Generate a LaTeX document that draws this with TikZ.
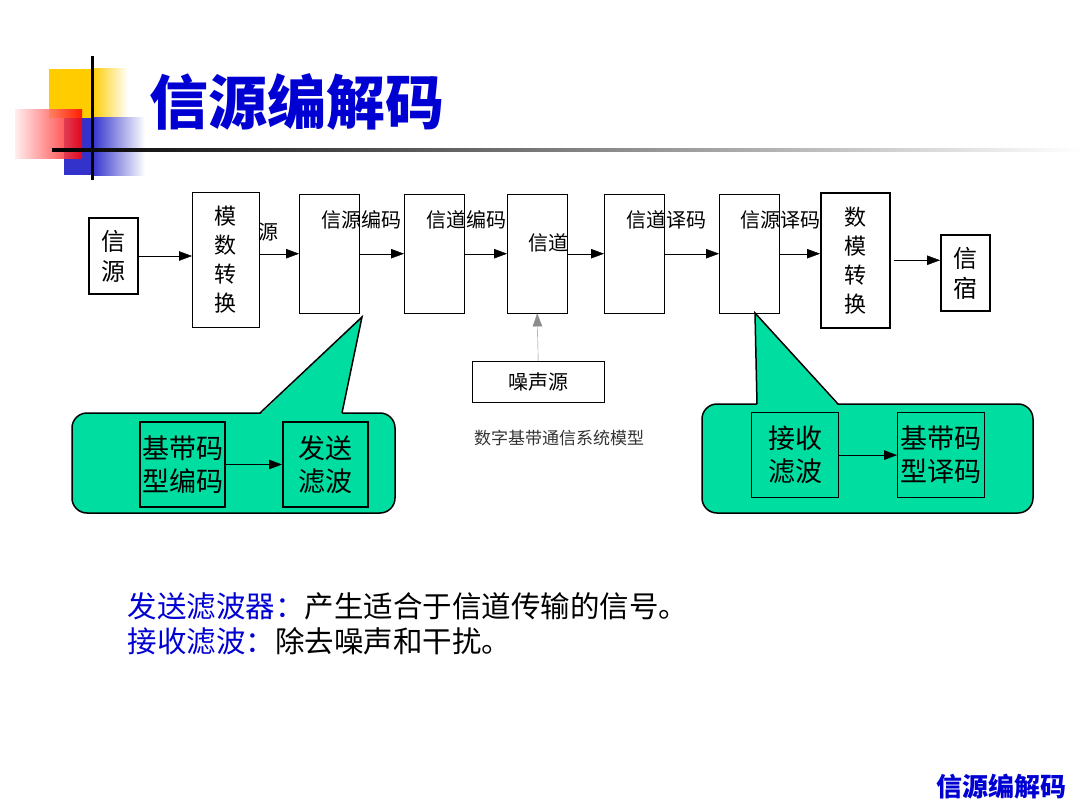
\documentclass[tikz,border=0pt]{standalone}
\usepackage{fontspec}
\setmainfont{Noto Sans CJK SC}
\usepackage{tkz-euclide}
\usetikzlibrary{arrows.meta}
\definecolor{bleutitre}{RGB}{0,0,210}
\definecolor{vertbulle}{RGB}{0,221,160}
\definecolor{jaunedeco}{RGB}{255,204,0}
\definecolor{bleudeco}{RGB}{51,51,204}
\newcommand\taille[2]{\fontsize{#1}{#2}\selectfont}

\begin{document}
\begin{tikzpicture}[x=1pt,y=-1pt,
    bloc/.style={draw,fill=white,inner sep=0pt,anchor=north west,align=center},
    fleche/.style={-{Triangle[length=13pt,width=9.5pt]}},
    etiq/.style={font=\taille{20}{24}}]
    \useasboundingbox (0,0) rectangle (1080,808);
    % décor du titre
    \fill[jaunedeco] (49,69) rectangle (92,118);
    \shade[left color=jaunedeco,right color=white] (92,69) rectangle (128,118);
    \fill[bleudeco] (64,118) rectangle (92,175);
    \shade[left color=bleudeco,right color=white] (92,118) rectangle (145,175);
    \shade[left color=red!8,right color=red,opacity=0.85] (15,110) rectangle (82,158);
    \fill[black] (90.5,56) rectangle (93.5,180);
    \shade[left color=black,middle color=gray!70,right color=white] (52,148.5) rectangle (1080,151.5);
    \node[font=\taille{59}{61}\bfseries,text=bleutitre,anchor=west] (titre) at (146,102) {信源编解码};
    % définition des points
    \tkzDefPoints{260/413/P1, 362/317/P2, 342/413/P3, 757/404/Q1, 755/313/Q2, 838/404/Q3}
    % chaîne de transmission
    \node[bloc,line width=2pt,minimum width=49pt,minimum height=76pt,font=\taille{24}{30}] (src) at (88,217) {信\\源};
    \node[bloc,minimum width=67pt,minimum height=135pt,font=\taille{22}{29}] (ad) at (192,192) {模\\数\\转\\换};
    \node[bloc,minimum width=60pt,minimum height=119pt] (ecs) at (299,194) {};
    \node[bloc,minimum width=60pt,minimum height=119pt] (ecc) at (404,194) {};
    \node[bloc,minimum width=60pt,minimum height=119pt] (canal) at (507,194) {};
    \node[bloc,minimum width=60pt,minimum height=119pt] (dcc) at (604,194) {};
    \node[bloc,minimum width=60pt,minimum height=119pt] (dcs) at (719,194) {};
    \node[bloc,line width=1.5pt,minimum width=69pt,minimum height=135pt,font=\taille{22}{29}] (da) at (820,192) {数\\模\\转\\换};
    \node[bloc,line width=2pt,minimum width=49pt,minimum height=76pt,font=\taille{24}{30}] (dest) at (940,234) {信\\宿};
    \node[bloc,minimum width=132pt,minimum height=41pt,font=\taille{20}{24}] (bruit) at (472,361) {噪声源};
    % étiquettes
    \node[etiq] (l-src) at (268,232) {源};
    \node[etiq] (l-ecs) at (361,220) {信源编码};
    \node[etiq] (l-ecc) at (466,220) {信道编码};
    \node[etiq] (l-canal) at (548,243) {信道};
    \node[etiq] (l-dcc) at (666,220) {信道译码};
    \node[etiq] (l-dcs) at (780,220) {信源译码};
    \node[font=\taille{17}{20},text=black!80] (legende) at (559,438) {数字基带通信系统模型};
    % flèches
    \draw[fleche] (src.east) -- (ad.west |- src.east);
    \draw[fleche] (ad.east |- ecs.west) -- (ecs.west);
    \draw[fleche] (ecs.east) -- (ecc.west);
    \draw[fleche] (ecc.east) -- (canal.west);
    \draw[fleche] (canal.east) -- (dcc.west);
    \draw[fleche] (dcc.east) -- (dcs.west);
    \draw[fleche] (dcs.east) -- (da.west |- dcs.east);
    \draw[fleche] ([xshift=3pt]da.east) -- (dest.west |- da.east);
    \draw[fleche,draw=black!45] (bruit.north) -- (canal.south);
    % bulle d'émission
    \draw[fill=vertbulle,line width=1.5pt,rounded corners=15pt] (72,413) rectangle (395,513);
    \fill[vertbulle] ([yshift=-1.5pt]P1) -- (P2) -- ([yshift=-1.5pt]P3) -- cycle;
    \draw[line width=1.5pt] (P1) -- (P2) -- (P3);
    \node[bloc,fill=vertbulle,line width=2pt,minimum width=85pt,minimum height=85pt,font=\taille{27}{33}] (bcode) at (139,421) {基带码\\型编码};
    \node[bloc,fill=vertbulle,line width=2pt,minimum width=85pt,minimum height=85pt,font=\taille{27}{33}] (filtre-e) at (282,421) {发送\\滤波};
    \draw[fleche,line width=1pt] (bcode.east) -- (filtre-e.west);
    % bulle de réception
    \draw[fill=vertbulle,line width=1.5pt,rounded corners=15pt] (702,404) rectangle (1033,513);
    \fill[vertbulle] ([yshift=-1.5pt]Q1) -- (Q2) -- ([yshift=-1.5pt]Q3) -- cycle;
    \draw[line width=1.5pt] (Q1) -- (Q2) -- (Q3);
    \node[bloc,fill=vertbulle,line width=1.2pt,minimum width=87pt,minimum height=85pt,font=\taille{27}{33}] (filtre-r) at (751,412) {接收\\滤波};
    \node[bloc,fill=vertbulle,line width=1.2pt,minimum width=87pt,minimum height=85pt,font=\taille{27}{33}] (bdec) at (897,412) {基带码\\型译码};
    \draw[fleche,line width=1pt] (filtre-r.east) -- (bdec.west);
    % texte du bas
    \node[anchor=west,font=\taille{29.5}{35}] (ligne1) at (124,606) {\textcolor{bleutitre}{发送滤波器：}产生适合于信道传输的信号。};
    \node[anchor=west,font=\taille{29.5}{35}] (ligne2) at (124,641) {\textcolor{bleutitre}{接收滤波：}除去噪声和干扰。};
    \node[font=\taille{26}{28}\bfseries,text=bleutitre] (pied) at (1001,787) {信源编解码};
\end{tikzpicture}
\end{document}
